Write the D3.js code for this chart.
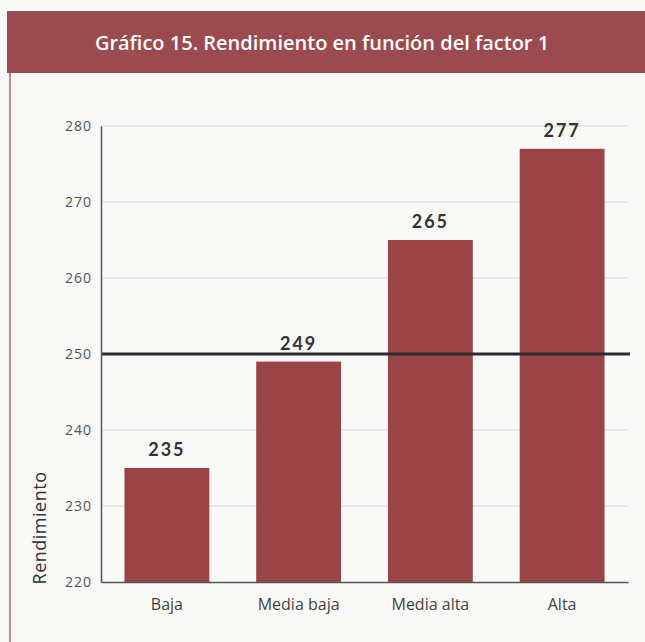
<!DOCTYPE html>
<html>
<head>
<meta charset="utf-8">
<script src="https://cdn.jsdelivr.net/npm/d3@7"></script>
<style>
  body { margin: 0; background: #f9f9f8; }
  svg { display: block; }
</style>
</head>
<body>
<div class="plot"></div>
<script>
// datos
var categories = ["Baja", "Media baja", "Media alta", "Alta"];
var values = [235, 249, 265, 277];
var yTicks = [220, 230, 240, 250, 260, 270, 280];
var refValue = 250;
var title = "Gráfico 15. Rendimiento en función del factor 1";
var yLabel = "Rendimiento";

var W = 645, H = 642;
var m = {t:126, r:17, b:60, l:101};
var w = W - m.l - m.r, h = H - m.t - m.b;

var svg = d3.select('.plot').append('svg')
	.attr('width', W)
	.attr('height', H);

svg.append('rect')
	.attr('width', W).attr('height', H)
	.style('fill', '#f9f9f8');

// banner
svg.append('rect')
	.attr('x', 7).attr('y', 11)
	.attr('width', W - 7).attr('height', 62)
	.style('fill', '#9b4a4f');

svg.append('line')
	.attr('x1', 10).attr('x2', 10)
	.attr('y1', 73).attr('y2', H)
	.style('stroke', '#b2666a')
	.style('stroke-width', 1.5);

svg.append('text')
	.attr('x', 322).attr('y', 50)
	.attr('text-anchor', 'middle')
	.style('font-family', '"Open Sans", sans-serif')
	.style('font-weight', 600)
	.style('font-size', '20px')
	.style('fill', '#fff')
	.text(title);

var plot = svg.append('g')
	.attr('transform', 'translate(' + m.l + ',' + m.t + ')');

var x = d3.scaleBand()
	.domain(categories)
	.range([0, w])
	.paddingInner(0.356)
	.paddingOuter(0.178);

var y = d3.scaleLinear()
	.domain([220, 280])
	.range([h, 0]);

// gridlines
plot.selectAll('.grid')
	.data(yTicks.filter(function(d){ return d !== 220; }))
	.enter().append('line')
	.attr('class', 'grid')
	.attr('x1', 0).attr('x2', w)
	.attr('y1', d => y(d)).attr('y2', d => y(d))
	.style('stroke', '#d6d9d9')
	.style('stroke-width', 1);

// bars
plot.selectAll('.bar')
	.data(values)
	.enter().append('rect')
	.attr('class', 'bar')
	.attr('x', (d, i) => x(categories[i]))
	.attr('width', x.bandwidth())
	.attr('y', d => y(d))
	.attr('height', d => h - y(d))
	.style('fill', '#9b4447');

// value labels
plot.selectAll('.val')
	.data(values)
	.enter().append('text')
	.attr('class', 'val')
	.attr('x', (d, i) => x(categories[i]) + x.bandwidth() / 2)
	.attr('y', d => y(d) - 12)
	.attr('text-anchor', 'middle')
	.style('font-family', 'Lato, "Open Sans", sans-serif')
	.style('font-weight', 700)
	.style('font-size', '18px')
	.style('letter-spacing', '2px')
	.style('fill', '#333')
	.text(d => d);

// reference line
plot.append('line')
	.attr('x1', 0).attr('x2', w + 2)
	.attr('y1', y(refValue)).attr('y2', y(refValue))
	.style('stroke', '#2b2b2b')
	.style('stroke-width', 3);

// y axis
var yAxis = plot.append('g')
	.call(d3.axisLeft(y).tickValues(yTicks).tickSize(0).tickPadding(9));
yAxis.select('.domain').style('stroke', '#555').style('stroke-width', 1.5);
yAxis.selectAll('text')
	.style('font-family', '"Open Sans", sans-serif')
	.style('font-size', '14px')
	.style('letter-spacing', '1px')
	.style('fill', '#555');

// x axis
var xAxis = plot.append('g')
	.attr('transform', 'translate(0,' + h + ')')
	.call(d3.axisBottom(x).tickSize(0).tickPadding(17));
xAxis.select('.domain').style('stroke', '#555').style('stroke-width', 1.5);
xAxis.selectAll('text')
	.style('font-family', '"Open Sans", sans-serif')
	.style('font-size', '16px')
	.style('fill', '#444');

// y label
svg.append('text')
	.attr('transform', 'translate(46,' + 528 + ') rotate(-90)')
	.attr('text-anchor', 'middle')
	.style('font-family', '"Open Sans", sans-serif')
	.style('font-size', '18px')
	.style('letter-spacing', '0.5px')
	.style('fill', '#333')
	.text(yLabel);
</script>
</body>
</html>
